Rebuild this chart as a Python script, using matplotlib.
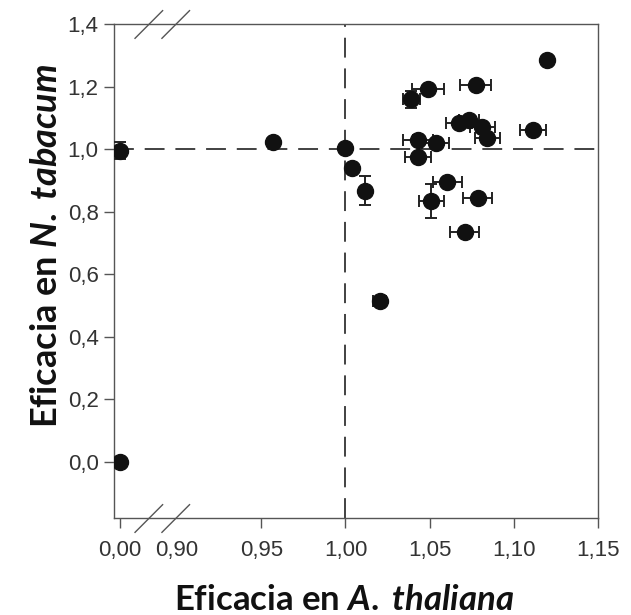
import numpy as np
import matplotlib
matplotlib.use("Agg")
import matplotlib.pyplot as plt

# Efficacy values (A. thaliana on x, N. tabacum on y)
ath = [0.000, 0.000, 0.957, 1.000, 1.0036, 1.0115, 1.0203, 1.039, 1.049, 1.0773,
       1.0674, 1.0733, 1.0813, 1.0842, 1.1113, 1.0431, 1.0431, 1.0536, 1.0605,
       1.051, 1.0787, 1.0708, 1.1195]
nta = [0.995, 0.000, 1.023, 1.002, 0.938, 0.867, 0.514, 1.159, 1.191, 1.205,
       1.084, 1.093, 1.071, 1.034, 1.061, 1.029, 0.975, 1.020, 0.895,
       0.833, 0.842, 0.735, 1.285]
ath_err = [0, 0, 0.002, 0, 0, 0.002, 0.004, 0.005, 0.0094, 0.0094,
           0.0079, 0.006, 0.0074, 0.0074, 0.0076, 0.0089, 0.0079, 0.0081, 0.0087,
           0.0074, 0.0086, 0.0085, 0.002]
nta_err = [0.027, 0, 0.01, 0, 0, 0.046, 0.012, 0.028, 0.005, 0.005,
           0.005, 0.01, 0.015, 0.015, 0.005, 0.015, 0.01, 0.005, 0.005,
           0.055, 0.005, 0.005, 0.012]

xticks = [0.0, 0.90, 0.95, 1.00, 1.05, 1.10, 1.15]
xticklabels = ["0,00", "0,90", "0,95", "1,00", "1,05", "1,10", "1,15"]
yticks = [0.0, 0.2, 0.4, 0.6, 0.8, 1.0, 1.2, 1.4]
yticklabels = ["0,0", "0,2", "0,4", "0,6", "0,8", "1,0", "1,2", "1,4"]

plt.rcParams["font.family"] = ["Liberation Sans", "DejaVu Sans"]
plt.rcParams["mathtext.fontset"] = "custom"
plt.rcParams["mathtext.rm"] = "Lato:bold"
plt.rcParams["mathtext.it"] = "Lato:bold:italic"

# broken x axis: 0.00 is pulled up next to 0.90
def fwd(x):
    x = np.asarray(x, dtype=float)
    return np.where(x < 0.45, x + 0.8661, x)

def inv(x):
    x = np.asarray(x, dtype=float)
    return np.where(x < 0.9, x - 0.8661, x)

fig = plt.figure(figsize=(6.31, 6.15), dpi=100)
ax = fig.add_axes([0.1807, 0.1577, 0.767, 0.8033])
ax.set_xscale("function", functions=(fwd, inv))

ax.axhline(1.0, color="#333333", lw=1.3, dashes=(11, 6), zorder=1)
ax.axvline(1.0, color="#333333", lw=1.3, dashes=(11, 6), zorder=1)

ax.errorbar(ath, nta, xerr=ath_err, yerr=nta_err, fmt="o", color="#111111",
            ecolor="#222222", elinewidth=1.4, capsize=4, capthick=1.4,
            markersize=11.5, zorder=3)

ax.set_xlim(-0.0036, 1.15)
ax.set_ylim(-0.18, 1.4)
ax.set_xticks(xticks)
ax.set_xticklabels(xticklabels)
ax.set_yticks(yticks)
ax.set_yticklabels(yticklabels)
ax.xaxis.get_major_ticks()[1].tick1line.set_visible(False)
ax.tick_params(axis="both", direction="out", length=7, width=1.0, color="#555555",
               labelsize=16, labelcolor="#333333")
ax.tick_params(axis="x", pad=9)
ax.tick_params(axis="y", pad=4)
for sp in ax.spines.values():
    sp.set_color("#555555")
    sp.set_linewidth(1.0)

# axis break marks
for y0 in (0.0, 1.0):
    for x0 in (0.0434, 0.099):
        ax.plot([x0, x0 + 0.057], [y0 - 0.029, y0 + 0.027], transform=ax.transAxes,
                color="#555555", lw=1.0, clip_on=False)

fig.text(0.545, 0.025, r"Eficacia en $\mathit{A.\;thaliana}$", ha="center", va="center",
         fontsize=25, fontweight="bold", family="Lato", color="#111111")
fig.text(0.074, 0.6, r"Eficacia en $\mathit{N.\;tabacum}$", ha="center", va="center",
         rotation=90, fontsize=26, fontweight="bold", family="Lato", color="#111111")

fig.savefig("out.png", dpi=100)
